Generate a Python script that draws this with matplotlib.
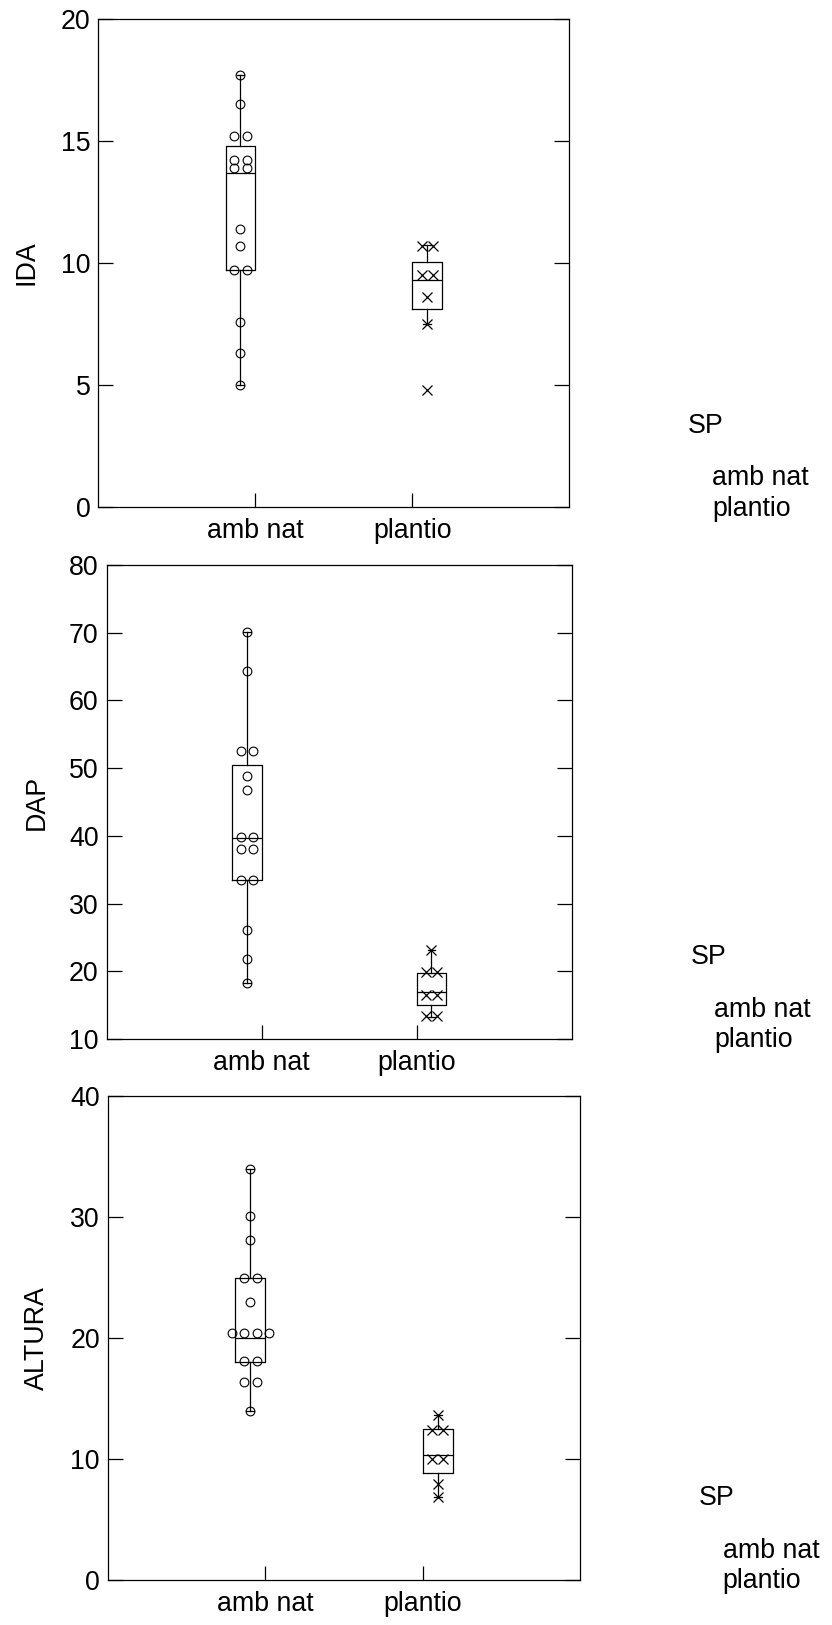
import numpy as np
import matplotlib
matplotlib.use("Agg")
import matplotlib.pyplot as plt

plt.rcParams["font.family"] = ["Liberation Sans", "DejaVu Sans"]

groups = ["amb nat", "plantio"]
legend_title = "SP"

# IDA
ida_amb_nat = [17.7, 16.5, 15.2, 15.2, 14.2, 14.2, 13.9, 13.9, 11.4, 10.7, 9.7, 9.7, 7.6, 6.3, 5.0]
ida_plantio = [10.7, 10.7, 9.5, 9.5, 8.6, 7.5, 4.8]
# box summaries: lower whisker, lower hinge, median, upper hinge, upper whisker
ida_box_amb_nat = [5.0, 9.7, 13.7, 14.8, 17.7]
ida_box_plantio = [7.5, 8.1, 9.3, 10.05, 10.75]
ida_ticks = [0, 5, 10, 15, 20]

# DAP
dap_amb_nat = [70.1, 64.3, 52.6, 52.6, 48.8, 46.8, 39.8, 39.8, 38.0, 38.0, 33.5, 33.5, 26.1, 21.8, 18.2]
dap_plantio = [23.2, 19.9, 19.9, 16.5, 16.5, 13.4, 13.4]
dap_box_amb_nat = [18.2, 33.5, 39.7, 50.4, 70.1]
dap_box_plantio = [13.2, 15.0, 17.0, 19.8, 23.2]
dap_ticks = [10, 20, 30, 40, 50, 60, 70, 80]

# ALTURA
altura_amb_nat = [34.0, 30.1, 28.1, 25.0, 25.0, 23.0, 20.4, 20.4, 20.4, 20.4, 18.1, 18.1, 16.4, 16.4, 14.0]
altura_plantio = [13.6, 12.4, 12.4, 10.0, 10.0, 7.9, 6.9]
altura_box_amb_nat = [14.0, 18.0, 20.0, 25.0, 34.0]
altura_box_plantio = [6.9, 8.85, 10.3, 12.45, 13.6]
altura_ticks = [0, 10, 20, 30, 40]

W, H = 832, 1625
FS = 19.3
LW = 0.9
DODGE = 0.095
fig = plt.figure(figsize=(W / 100, H / 100), dpi=100)
fig.patch.set_facecolor("white")


def tie_offsets(values, step=0.08):
    """Spread tied values side by side around the group centre."""
    values = np.asarray(values, dtype=float)
    offs = np.zeros(len(values))
    for v in np.unique(values):
        idx = np.where(values == v)[0]
        k = len(idx)
        offs[idx] = (np.arange(k) - (k - 1) / 2) * step
    return offs


def summary(box):
    lo, q1, med, q3, hi = box
    return dict(whislo=lo, q1=q1, med=med, q3=q3, whishi=hi, fliers=[])


def panel(left, top, right, bottom, ylabel, ylabel_x, ticks,
          vals_a, vals_b, box_a, box_b):
    ax = fig.add_axes([left / W, 1 - bottom / H, (right - left) / W, (bottom - top) / H])
    pos = [1 - DODGE, 2 + DODGE]
    line = dict(color="black", linewidth=LW)
    ax.bxp([summary(box_a), summary(box_b)], positions=pos, widths=0.19,
           capwidths=0.05, showfliers=False, manage_ticks=False,
           boxprops=line, whiskerprops=line, capprops=line,
           medianprops=line)

    xa = pos[0] + tie_offsets(vals_a)
    ax.plot(xa, vals_a, linestyle="none", marker="o", ms=6.3,
            mfc="none", mec="black", mew=0.8, zorder=3)
    xb = pos[1] + tie_offsets(vals_b, step=0.072)
    ax.plot(xb, vals_b, linestyle="none", marker="x", ms=7,
            mec="black", mew=0.9, zorder=3)

    ax.set_xlim(0, 3)
    ax.set_ylim(ticks[0], ticks[-1])
    ax.set_xticks([1, 2], groups)
    ax.set_yticks(ticks)
    ax.tick_params(axis="x", direction="in", length=10, width=LW, pad=8,
                   labelsize=FS, top=False)
    ax.tick_params(axis="y", direction="in", length=10.8, width=LW, pad=5.8,
                   labelsize=FS, right=True, labelright=False)
    for s in ax.spines.values():
        s.set_linewidth(LW)

    fig.text(ylabel_x / W, 1 - (top + bottom) / 2 / H, ylabel, rotation=90,
             ha="center", va="center", fontsize=FS)

    # group legend (text only)
    fig.text((right + 118.7) / W, 1 - (bottom - 74.6) / H, legend_title,
             ha="left", va="baseline", fontsize=FS)
    for i, g in enumerate(groups):
        fig.text((right + 142.7) / W, 1 - (bottom - 22.3 + 30.7 * i) / H, g,
                 ha="left", va="baseline", fontsize=FS)
    return ax


panel(98.4, 18.6, 569.2, 507.3, "IDA", 27, ida_ticks,
      ida_amb_nat, ida_plantio, ida_box_amb_nat, ida_box_plantio)
panel(106.7, 565.0, 571.7, 1039.0, "DAP", 37, dap_ticks,
      dap_amb_nat, dap_plantio, dap_box_amb_nat, dap_box_plantio)
panel(108.0, 1096.0, 580.0, 1580.0, "ALTURA", 37, altura_ticks,
      altura_amb_nat, altura_plantio, altura_box_amb_nat, altura_box_plantio)

fig.savefig("out.png", dpi=100, facecolor="white")
